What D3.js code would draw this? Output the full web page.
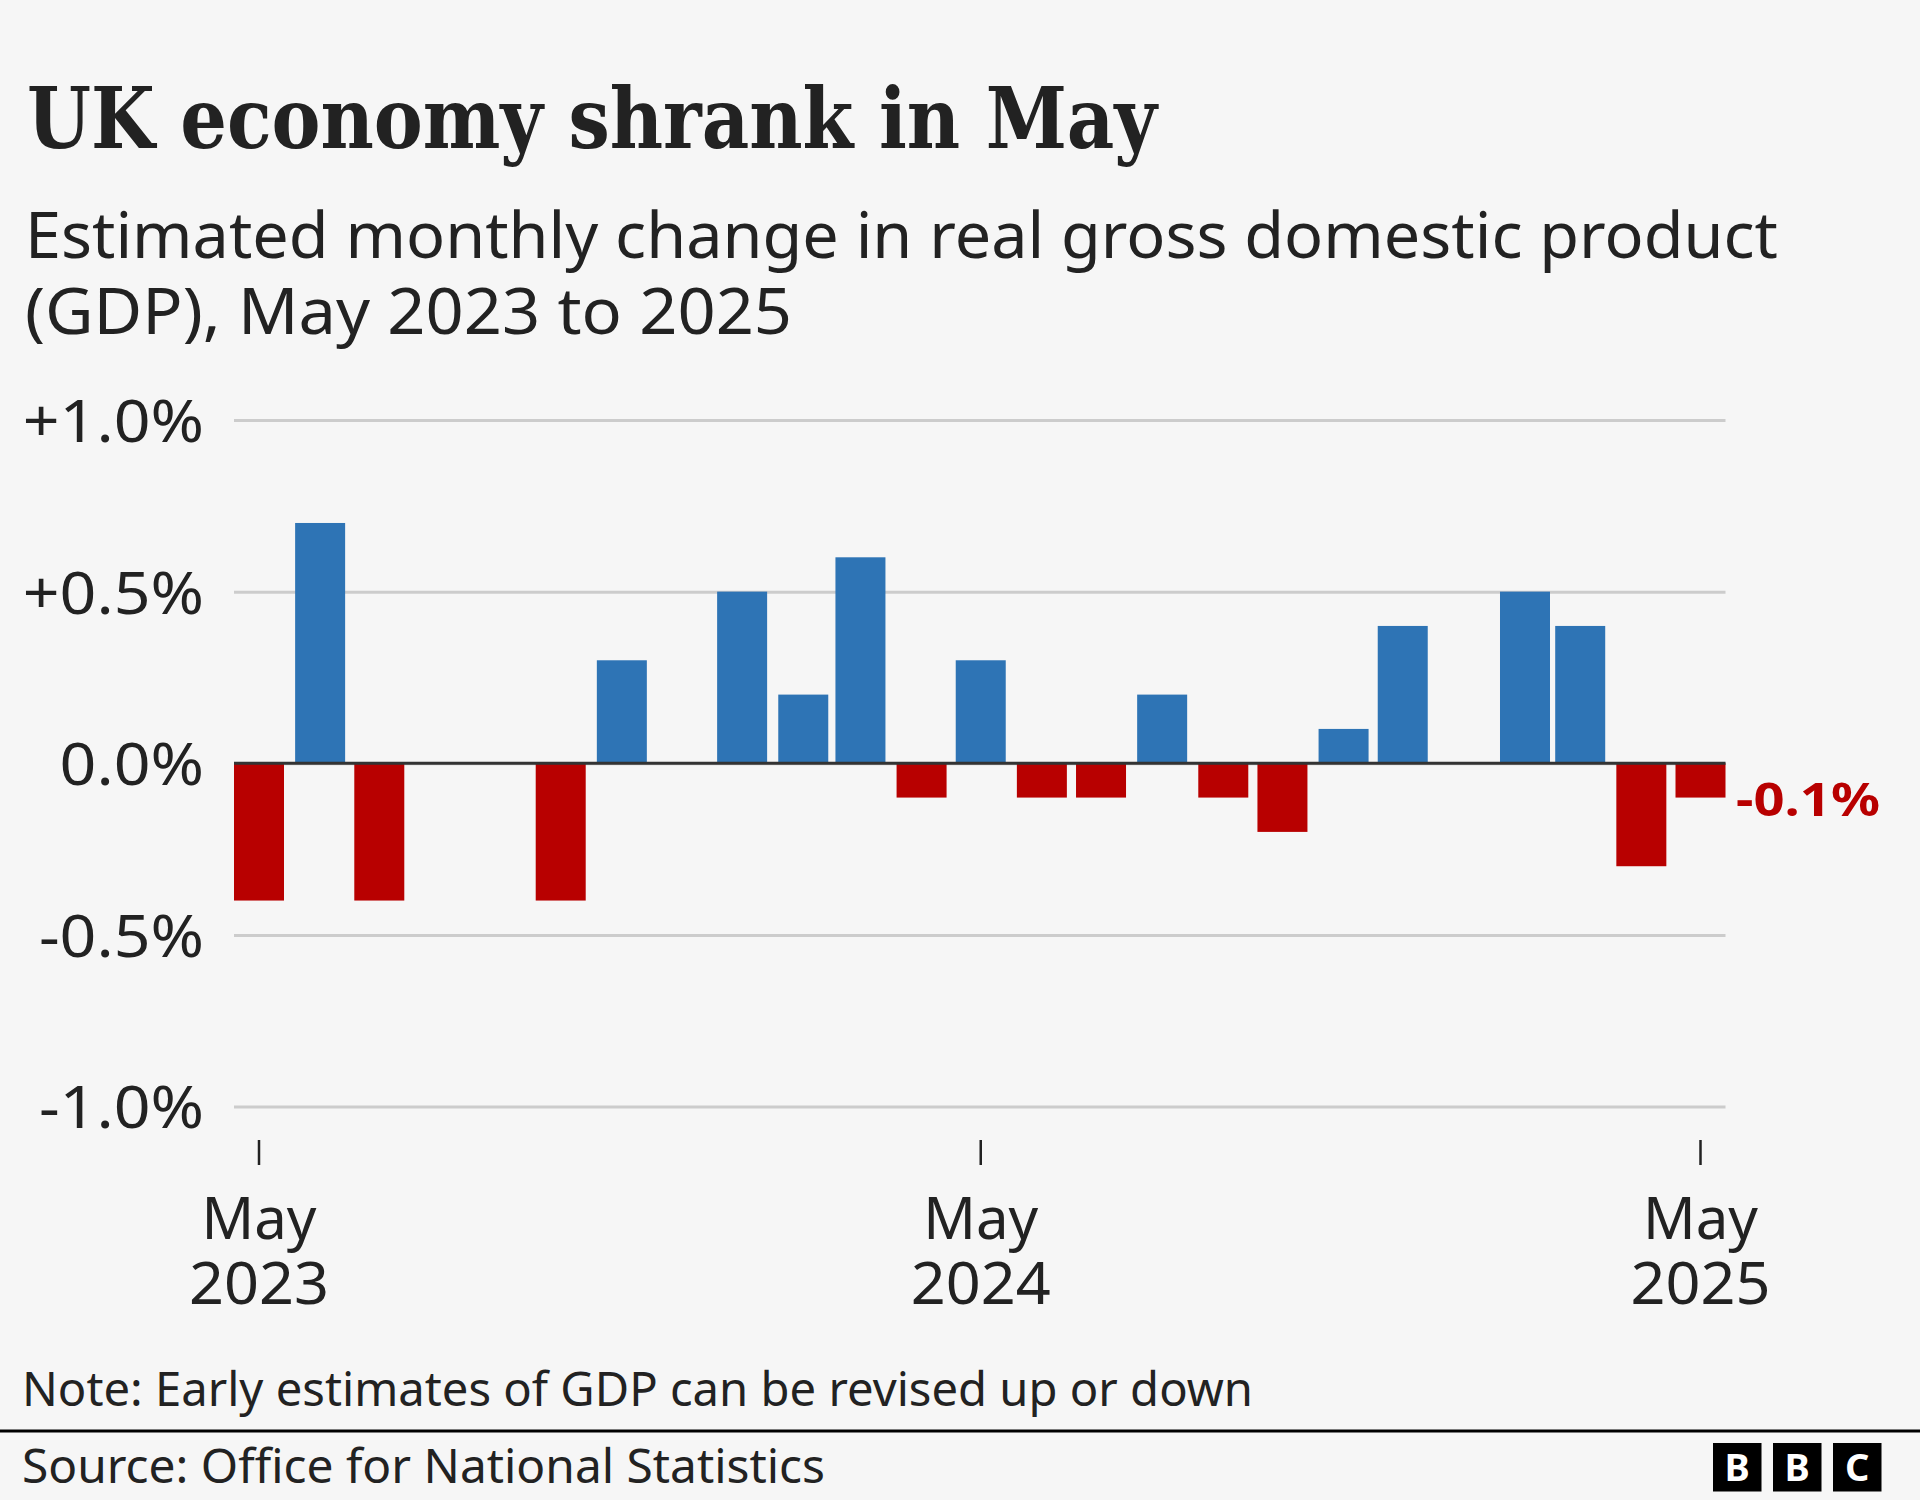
<!DOCTYPE html>
<html>
<head>
<meta charset="utf-8">
<script src="https://cdn.jsdelivr.net/npm/d3@7"></script>
<style>
  html, body { margin: 0; background: #f6f6f6; }
  text { font-family: "Noto Sans", sans-serif; fill: #222; }
  .domain { display: none; }
</style>
</head>
<body>
<div id="chart"></div>
<script>
var months = ["May 2023","Jun 2023","Jul 2023","Aug 2023","Sep 2023","Oct 2023","Nov 2023","Dec 2023",
    "Jan 2024","Feb 2024","Mar 2024","Apr 2024","May 2024","Jun 2024","Jul 2024","Aug 2024",
    "Sep 2024","Oct 2024","Nov 2024","Dec 2024","Jan 2025","Feb 2025","Mar 2025","Apr 2025","May 2025"];
var gdpChange = [-0.4,0.7,-0.4,0,0,-0.4,0.3,0,0.5,0.2,0.6,-0.1,0.3,-0.1,-0.1,0.2,-0.1,-0.2,0.1,0.4,0,0.5,0.4,-0.3,-0.1];
var yTicks = [1,0.5,0,-0.5,-1];
var yTickLabels = ["+1.0%","+0.5%","0.0%","-0.5%","-1.0%"];
var xTicks = ["May 2023","May 2024","May 2025"];

var width = 1920, height = 1500;
var barWidth = 50, plotLeft = 234, plotRight = 1725.5;
var blue = "#2e74b5", red = "#b80000", ink = "#222222";
var wide = 1.11; // the original sans is wider than Noto at the same height

var parseMonth = d3.utcParse("%b %Y");
var dates = months.map(parseMonth);

var svg = d3.select("#chart").append("svg")
    .attr("width", width)
    .attr("height", height)
    .style("display", "block");

svg.append("rect").attr("width", width).attr("height", height).attr("fill", "#f6f6f6");

// bars sit on real dates, so month lengths show in the spacing
var x = d3.scaleUtc().domain(d3.extent(dates)).range([plotLeft, plotRight - barWidth]);
var y = d3.scaleLinear().domain([-1, 1]).range([1106.5, 420]);

function label(txt, px, py, size, len) {
    var t = svg.append("text").attr("x", px).attr("y", py).attr("font-size", size).text(txt);
    if (len) t.attr("textLength", len).attr("lengthAdjust", "spacingAndGlyphs");
    return t;
}

label("UK economy shrank in May", 27, 148, 84, 1130)
    .style("font-family", '"DejaVu Serif Condensed", "DejaVu Serif", serif')
    .attr("font-weight", 700);
label("Estimated monthly change in real gross domestic product", 25, 258, 63, 1753);
label("(GDP), May 2023 to 2025", 25, 334, 63, 767);

// y axis + gridlines
var yAxis = svg.append("g")
    .attr("transform", "translate(" + plotLeft + ",0)")
    .call(d3.axisLeft(y)
        .tickValues(yTicks)
        .tickSize(-(plotRight - plotLeft))
        .tickFormat(function (d, i) { return yTickLabels[i]; }));
yAxis.selectAll("line").attr("stroke", "#cccccc").attr("stroke-width", 3);
yAxis.selectAll("text")
    .attr("font-size", 58)
    .attr("font-family", null)
    .attr("x", -30 / wide)
    .attr("dy", "0.37em")
    .attr("transform", "scale(" + wide + ",1)")
    .style("fill", ink);

// bars
svg.append("g").selectAll("rect")
    .data(gdpChange)
    .enter()
    .append("rect")
    .attr("x", function (d, i) { return x(dates[i]); })
    .attr("y", function (d) { return y(Math.max(d, 0)); })
    .attr("width", barWidth)
    .attr("height", function (d) { return Math.abs(y(d) - y(0)); })
    .attr("fill", function (d) { return d >= 0 ? blue : red; });

// zero line
svg.append("line")
    .attr("x1", plotLeft).attr("x2", plotRight)
    .attr("y1", y(0)).attr("y2", y(0))
    .attr("stroke", "#333333").attr("stroke-width", 3);

// x axis, ticks at the middle of the bars
var xAxis = svg.append("g")
    .attr("transform", "translate(" + (barWidth / 2 - 0.5) + ",1140)")
    .call(d3.axisBottom(x).tickValues(xTicks.map(parseMonth)).tickSize(25).tickFormat(""));
xAxis.selectAll("line").attr("stroke", ink).attr("stroke-width", 2.5);

var xLabels = xAxis.selectAll(".tick").append("text")
    .attr("text-anchor", "middle")
    .attr("font-size", 58)
    .style("fill", ink);
xLabels.append("tspan").attr("x", 0).attr("y", 99)
    .attr("textLength", 115).attr("lengthAdjust", "spacingAndGlyphs")
    .text(function (d, i) { return xTicks[i].split(" ")[0]; });
xLabels.append("tspan").attr("x", 0).attr("y", 164)
    .attr("textLength", 140).attr("lengthAdjust", "spacingAndGlyphs")
    .text(function (d, i) { return xTicks[i].split(" ")[1]; });

// last value label
svg.append("text")
    .attr("x", 1736)
    .attr("y", y(gdpChange[24]) + 18)
    .attr("font-size", 47)
    .attr("font-weight", 700)
    .style("fill", red)
    .attr("textLength", 144)
    .attr("lengthAdjust", "spacingAndGlyphs")
    .text("-0.1%");

// footer
label("Note: Early estimates of GDP can be revised up or down", 22, 1406, 47, 1231);
label("Source: Office for National Statistics", 22, 1483, 47, 803);

svg.append("rect").attr("x", 0).attr("y", 1429.5).attr("width", width).attr("height", 3).attr("fill", "#000");

var logoLetters = ["B", "B", "C"];
var logo = svg.append("g").selectAll("g")
    .data(logoLetters)
    .enter()
    .append("g")
    .attr("transform", function (d, i) { return "translate(" + (1713 + i * 60) + ",1443)"; });
logo.append("rect").attr("width", 48.5).attr("height", 48.5).attr("fill", "#000");
logo.append("text")
    .attr("x", 24.25).attr("y", 38)
    .attr("text-anchor", "middle")
    .attr("font-size", 38)
    .attr("font-weight", 700)
    .style("fill", "#fff")
    .text(function (d) { return d; });
</script>
</body>
</html>
